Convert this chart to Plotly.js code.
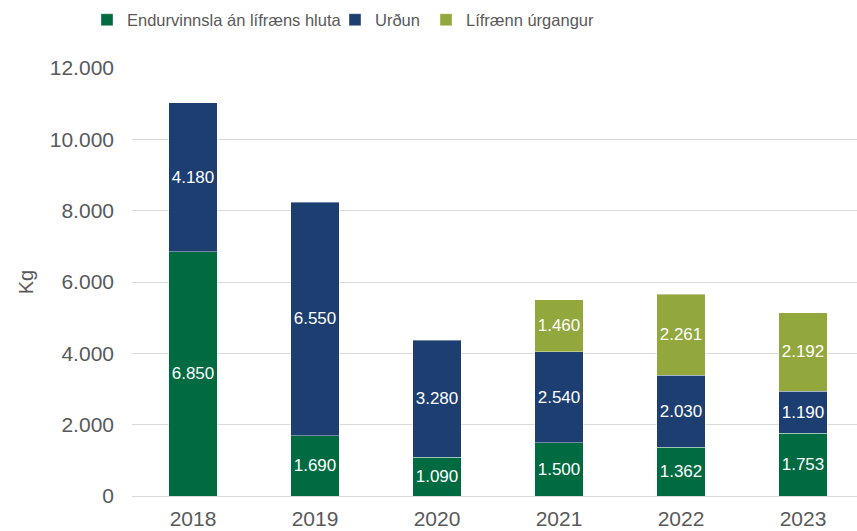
<!DOCTYPE html>
<html>
<head>
<meta charset="utf-8">
<script src="https://cdn.plot.ly/plotly-3.0.1.min.js"></script>
<style>html,body{margin:0;padding:0;background:#fff;}#chart{width:857px;height:531px;}</style>
</head>
<body>
<div id="chart"></div>
<script>
const years = ['2018', '2019', '2020', '2021', '2022', '2023'];
const seriesNames = ['Endurvinnsla án lífræns hluta', 'Urðun', 'Lífrænn úrgangur'];
const endurvinnsla = [6850, 1690, 1090, 1500, 1362, 1753];
const urdun = [4180, 6550, 3280, 2540, 2030, 1190];
const lifraenn = [null, null, null, 1460, 2261, 2192];
const colors = ['#006A41', '#1D3E70', '#92A83C'];
const yTicks = [0, 2000, 4000, 6000, 8000, 10000, 12000];

const regular = '"Liberation Sans", Arial, sans-serif';
const gray = '#595959';

const values = [endurvinnsla, urdun, lifraenn];
const legendIds = ['legend', 'legend2', 'legend3'];
const traces = values.map((v, i) => ({
  type: 'bar',
  name: seriesNames[i],
  x: years,
  y: v,
  legend: legendIds[i],
  marker: {color: colors[i], line: {color: 'rgba(255,255,255,0.55)', width: 0.7}},
  texttemplate: '%{y:,}',
  textposition: 'inside',
  insidetextanchor: 'middle',
  textangle: 0,
  constraintext: 'none',
  textfont: {family: regular, size: 17, color: '#ffffff'},
  hoverinfo: 'skip'
}));

const legendX = [87, 335, 426];
const mkLegend = (px) => ({
  xref: 'container', yref: 'container',
  x: px / 857, y: 1 - 20 / 531,
  xanchor: 'left', yanchor: 'middle',
  orientation: 'h',
  bgcolor: 'rgba(0,0,0,0)',
  font: {family: regular, size: 16.5, color: gray},
  itemwidth: 30
});

const layout = {
  width: 857, height: 531,
  margin: {l: 132, r: 0, t: 68, b: 35},
  barmode: 'stack',
  bargap: 0.6,
  separators: ',.',
  paper_bgcolor: '#ffffff',
  plot_bgcolor: '#ffffff',
  showlegend: true,
  legend: mkLegend(legendX[0]),
  legend2: mkLegend(legendX[1]),
  legend3: mkLegend(legendX[2]),
  xaxis: {
    type: 'category',
    range: [-0.5, -0.5 + 725 / 122],
    showgrid: false,
    showline: false,
    ticks: '',
    tickfont: {family: regular, size: 21, color: gray},
    ticklabelstandoff: 8
  },
  yaxis: {
    range: [0, 12000],
    tickvals: yTicks,
    tickformat: ',',
    showgrid: true,
    gridcolor: '#D9D9D9',
    gridwidth: 1,
    zeroline: true,
    zerolinecolor: '#D9D9D9',
    zerolinewidth: 1,
    showline: false,
    ticks: '',
    tickfont: {family: regular, size: 21, color: gray},
    ticklabelstandoff: 17,
    title: {text: 'Kg', font: {family: regular, size: 20, color: gray}, standoff: 10}
  }
};

Plotly.newPlot('chart', traces, layout, {displayModeBar: false, staticPlot: true});
</script>
</body>
</html>
